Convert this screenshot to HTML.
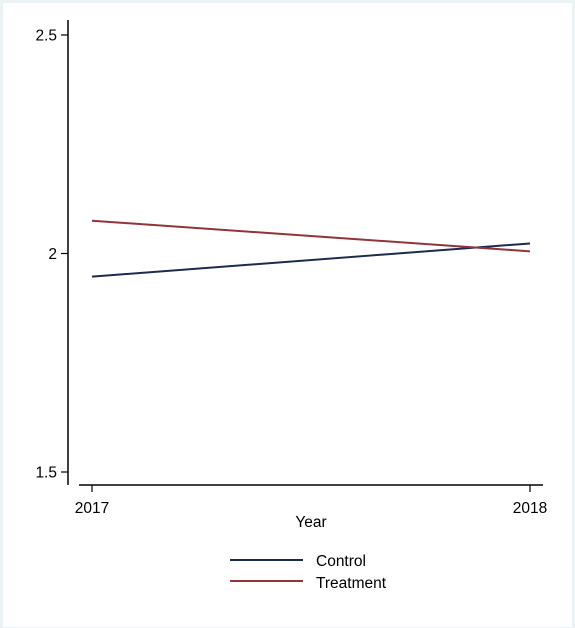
<!DOCTYPE html>
<html><head><meta charset="utf-8"><style>
html,body{margin:0;padding:0;background:#eaf2f3;}
svg{display:block;font-family:"Liberation Sans",Arial,sans-serif;}
</style></head><body>
<svg width="575" height="628">
<rect x="3" y="3" width="569" height="624" fill="#fff"/>
<g id="axes"></g>
<g id="series"></g>
<g>
<line x1="230" y1="560" x2="303" y2="560" stroke="#1c2b4e" stroke-width="2"/>
<text x="316" y="566" font-size="15.5">Control</text>
<line x1="230" y1="581" x2="303" y2="581" stroke="#90353b" stroke-width="2"/>
<text x="316" y="588" font-size="15.5">Treatment</text>
</g>
</svg>
<script>
const years=[2017,2018];
const control=[1.947,2.023];
const treatment=[2.075,2.005];
const yTicks=[1.5,2,2.5];
const yTickLabels=["1.5","2","2.5"];
const NS="http://www.w3.org/2000/svg";
function xs(v){return 92+(v-2017)*(530-92);}
function ys(v){return 472-(v-1.5)*(472-35);}
function mk(tag,attrs,parent){const e=document.createElementNS(NS,tag);for(const k in attrs)e.setAttribute(k,attrs[k]);parent.appendChild(e);return e;}
const ax=document.getElementById('axes');
let e=mk('line',{x1:68,y1:20,x2:68,y2:485,stroke:'#000','stroke-width':1.5},ax);


e=mk('line',{x1:79,y1:485,x2:543,y2:485,stroke:'#000','stroke-width':1.5},ax);


yTicks.forEach((t,i)=>{
 const y=ys(t);
 let l=mk('line',{x1:61,y1:y,x2:68,y2:y,stroke:'#000','stroke-width':1.2},ax);
 
 
 let tx=mk('text',{x:57,y:y+5.5,'text-anchor':'end','font-size':15.5},ax);
 tx.textContent=yTickLabels[i];
 
 
});
years.forEach(yr=>{
 const x=xs(yr);
 let l=mk('line',{x1:x,y1:485,x2:x,y2:492,stroke:'#000','stroke-width':1.2},ax);
 
 
 let tx=mk('text',{x:x,y:513,'text-anchor':'middle','font-size':15.5},ax);
 tx.textContent=String(yr);
 
 
});
let xt=mk('text',{x:311,y:527,'text-anchor':'middle','font-size':15.5},ax);
xt.textContent='Year';


const sg=document.getElementById('series');
function line(vals,color,name){
 const pts=vals.map((v,i)=>xs(years[i])+','+ys(v)).join(' ');
 const p=mk('polyline',{points:pts,fill:'none',stroke:color,'stroke-width':2},sg);
 
 
}
line(control,'#1c2b4e','control-line');
line(treatment,'#90353b','treatment-line');
</script>
</body></html>
